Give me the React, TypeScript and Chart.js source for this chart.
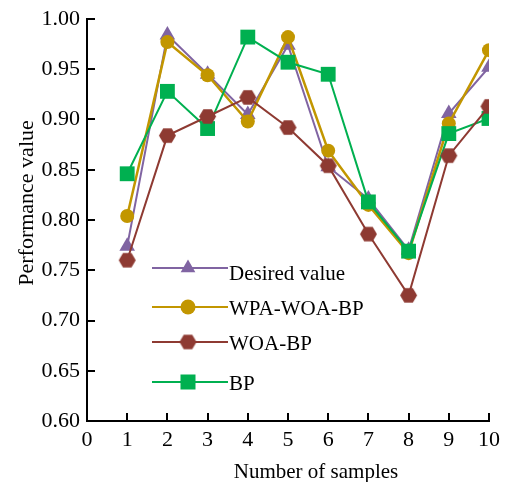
import React, { useEffect, useRef } from "react";
import { Chart, registerables } from "chart.js";

Chart.register(...registerables);

// ---- data ----
const samples = [1, 2, 3, 4, 5, 6, 7, 8, 9, 10];
const desiredValue = [0.774, 0.984, 0.945, 0.905, 0.974, 0.853, 0.821, 0.770, 0.906, 0.952];
const wpaWoaBp = [0.804, 0.977, 0.944, 0.898, 0.982, 0.869, 0.815, 0.767, 0.896, 0.969];
const woaBp = [0.760, 0.884, 0.903, 0.922, 0.892, 0.854, 0.786, 0.725, 0.864, 0.913];
const bp = [0.846, 0.928, 0.891, 0.982, 0.957, 0.945, 0.818, 0.769, 0.886, 0.901];

const seriesNames = ["Desired value", "WPA-WOA-BP", "WOA-BP", "BP"];
const xMin = 0;
const xMax = 10;
const yMin = 0.6;
const yMax = 1.0;
const yStep = 0.05;
const xTitle = "Number of samples";
const yTitle = "Performance value";

const FONT = "Liberation Serif";
const colors = ["#8064A2", "#C29600", "#8E3A32", "#00B050"];

function makeHexagon(color: string, r: number): HTMLCanvasElement {
  const c = document.createElement("canvas");
  const w = Math.ceil(2 * r) + 2;
  const h = Math.ceil(Math.sqrt(3) * r) + 2;
  c.width = w;
  c.height = h;
  const ctx = c.getContext("2d")!;
  ctx.fillStyle = color;
  ctx.beginPath();
  for (let i = 0; i < 6; i++) {
    const a = (Math.PI / 3) * i;
    const px = w / 2 + r * Math.cos(a);
    const py = h / 2 + r * Math.sin(a);
    if (i === 0) ctx.moveTo(px, py);
    else ctx.lineTo(px, py);
  }
  ctx.closePath();
  ctx.fill();
  return c;
}

const zeroPad = (s: any) => {
  s.paddingTop = 0;
  s.paddingBottom = 0;
  s.paddingLeft = 0;
  s.paddingRight = 0;
};

export default function App() {
  const ref = useRef<HTMLCanvasElement | null>(null);

  useEffect(() => {
    if (!ref.current) return;
    const hex = makeHexagon(colors[2], 8.5);

    const toXY = (arr: number[]) => arr.map((v, i) => ({ x: samples[i], y: v }));

    const overlay = {
      id: "overlay",
      afterDraw(chart: any) {
        const ctx = chart.ctx as CanvasRenderingContext2D;
        ctx.save();
        // axis titles
        ctx.fillStyle = "#000";
        ctx.font = `21px ${FONT}`;
        ctx.textAlign = "center";
        ctx.textBaseline = "alphabetic";
        ctx.fillText(xTitle, 316, 478);
        ctx.save();
        ctx.translate(33, 203);
        ctx.rotate(-Math.PI / 2);
        ctx.font = `22px ${FONT}`;
        ctx.fillText(yTitle, 0, 0);
        ctx.restore();

        // legend
        const lineY = [268, 307, 342, 382];
        const textY = [280, 315, 350, 390];
        const mx = 188;
        for (let i = 0; i < 4; i++) {
          const y = lineY[i];
          ctx.strokeStyle = colors[i];
          ctx.lineWidth = 2;
          ctx.beginPath();
          ctx.moveTo(152, y);
          ctx.lineTo(228, y);
          ctx.stroke();
          ctx.fillStyle = colors[i];
          if (i === 0) {
            const r = 8.5;
            ctx.beginPath();
            ctx.moveTo(mx, y - r);
            ctx.lineTo(mx + 0.866 * r, y + 0.5 * r);
            ctx.lineTo(mx - 0.866 * r, y + 0.5 * r);
            ctx.closePath();
            ctx.fill();
          } else if (i === 1) {
            ctx.beginPath();
            ctx.arc(mx, y, 7.5, 0, Math.PI * 2);
            ctx.fill();
          } else if (i === 2) {
            ctx.drawImage(hex, mx - hex.width / 2, y - hex.height / 2);
          } else {
            ctx.fillRect(mx - 7.5, y - 7.5, 15, 15);
          }
          ctx.fillStyle = "#000";
          ctx.font = `21px ${FONT}`;
          ctx.textAlign = "left";
          ctx.textBaseline = "alphabetic";
          ctx.fillText(seriesNames[i], 229, textY[i]);
        }
        ctx.restore();
      },
    };

    const chart = new Chart(ref.current, {
      type: "line",
      data: {
        datasets: [
          {
            label: seriesNames[0],
            data: toXY(desiredValue),
            borderColor: colors[0],
            backgroundColor: colors[0],
            borderWidth: 2,
            pointStyle: "triangle",
            pointRadius: 9,
            pointBorderWidth: 0,
            order: 4,
          },
          {
            label: seriesNames[1],
            data: toXY(wpaWoaBp),
            borderColor: colors[1],
            backgroundColor: colors[1],
            borderWidth: 2.5,
            pointStyle: "circle",
            pointRadius: 7,
            pointBorderWidth: 0,
            order: 3,
          },
          {
            label: seriesNames[2],
            data: toXY(woaBp),
            borderColor: colors[2],
            backgroundColor: colors[2],
            borderWidth: 2,
            pointStyle: hex as any,
            pointRadius: 8.5,
            pointBorderWidth: 0,
            order: 1,
          },
          {
            label: seriesNames[3],
            data: toXY(bp),
            borderColor: colors[3],
            backgroundColor: colors[3],
            borderWidth: 2,
            pointStyle: "rect",
            pointRadius: 10.5,
            pointBorderWidth: 0,
            order: 2,
          },
        ],
      },
      options: {
        animation: false,
        responsive: false,
        devicePixelRatio: 1,
        layout: { padding: { top: 19, right: 18, left: 0, bottom: 0 } },
        plugins: {
          legend: { display: false },
          tooltip: { enabled: false },
          title: { display: false },
        },
        scales: {
          x: {
            type: "linear",
            min: xMin,
            max: xMax,
            ticks: {
              stepSize: 1,
              color: "#000",
              font: { family: FONT, size: 22 },
              padding: 14,
              maxRotation: 0,
              autoSkip: false,
            },
            grid: {
              drawOnChartArea: false,
              drawTicks: true,
              tickLength: -8,
              color: "#000",
              lineWidth: 2,
            },
            border: { display: true, color: "#000", width: 2 },
            afterFit: (s: any) => {
              s.height = 61;
              zeroPad(s);
            },
          },
          y: {
            type: "linear",
            min: yMin,
            max: yMax,
            ticks: {
              stepSize: yStep,
              color: "#000",
              font: { family: FONT, size: 22 },
              padding: 15,
              callback: (v: any) => Number(v).toFixed(2),
            },
            grid: {
              drawOnChartArea: false,
              drawTicks: true,
              tickLength: -8,
              color: "#000",
              lineWidth: 2,
            },
            border: { display: true, color: "#000", width: 2 },
            afterFit: (s: any) => {
              s.width = 87;
              zeroPad(s);
            },
          },
        },
      },
      plugins: [overlay],
    });

    return () => chart.destroy();
  }, []);

  return (
    <div style={{ position: "absolute", left: 0, top: 0, width: 507, height: 482, background: "#fff" }}>
      <canvas ref={ref} width={507} height={482} style={{ display: "block" }} />
    </div>
  );
}
